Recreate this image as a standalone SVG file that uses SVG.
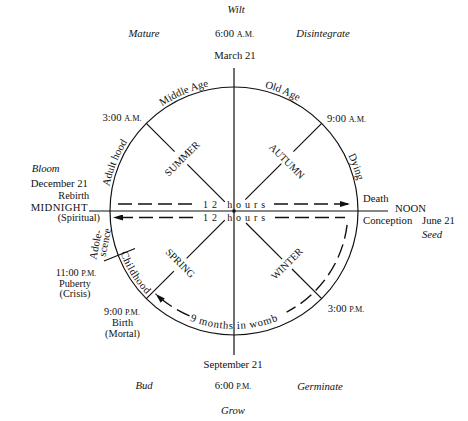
<svg xmlns="http://www.w3.org/2000/svg" xmlns:xlink="http://www.w3.org/1999/xlink" width="468" height="421" viewBox="0 0 468 421">
<style>
text{font-family:"Liberation Serif","Times New Roman",serif;font-size:10.7px;fill:#111}
.it{font-style:italic}
.m{text-anchor:middle}
.sc{font-size:8.2px}
.st{font-size:10.3px}
.ln{stroke:#111;stroke-width:1.2;fill:none}
.dash{stroke:#111;stroke-width:1.4;fill:none;stroke-dasharray:14 6}
.season{font-size:10.3px;text-anchor:middle}
.hrs{font-size:10px;letter-spacing:3.9px}
</style>
<defs>
<marker id="arr" markerUnits="userSpaceOnUse" markerWidth="11" markerHeight="6" refX="10" refY="3" orient="auto">
<path d="M0,0 L10,3 L0,6 z" fill="#111"/>
</marker>
<path id="outer" d="M107,211 A127,127 0 1 1 361,211 A127,127 0 1 1 107,211"/>
<path id="inner121" d="M113,211 A121,121 0 1 0 355,211 A121,121 0 1 0 113,211"/>
<path id="inner118" d="M116,211 A118,118 0 1 0 352,211 A118,118 0 1 0 116,211"/>
</defs>

<g id="wheel">
<circle cx="234" cy="211" r="124" class="ln" stroke-width="1.3"/>
<line x1="234" y1="68" x2="234" y2="355" class="ln"/>
<line x1="89" y1="211" x2="388" y2="211" class="ln"/>
<rect x="232.5" y="209.5" width="3" height="3" fill="#111"/>
<line x1="104" y1="261" x2="135" y2="248.5" class="ln"/>
</g>

<g id="diagonals">
<line x1="146.3" y1="123.3" x2="174.6" y2="151.6" class="ln"/>
<line x1="187.3" y1="164.3" x2="224.8" y2="201.8" class="ln"/>
<line x1="321.7" y1="123.3" x2="293.4" y2="151.6" class="ln"/>
<line x1="281.4" y1="163.6" x2="245.3" y2="199.7" class="ln"/>
<line x1="146.3" y1="298.7" x2="173.9" y2="271.1" class="ln"/>
<line x1="186.6" y1="258.4" x2="224.8" y2="220.2" class="ln"/>
<line x1="321.7" y1="298.7" x2="292" y2="269" class="ln"/>
<line x1="282.1" y1="259.1" x2="246" y2="223" class="ln"/>
</g>

<g id="connectors">
<path d="M118,204 H192" class="dash"/>
<path d="M274,204 H350" class="dash" marker-end="url(#arr)"/>
<path d="M193,217.5 H113" class="dash" marker-end="url(#arr)"/>
<path d="M275,217.5 H345" class="dash"/>
<path d="M347.1,224.9 A114,114 0 0 1 286.6,312.1" class="dash"/>
<path d="M189.5,315.9 A114,114 0 0 1 155.5,293.7" class="dash" stroke-dasharray="10 6" marker-end="url(#arr)"/>
</g>

<g id="hours">
<text class="hrs" x="203" y="207.7">12 hours</text>
<text class="hrs" x="203" y="221">12 hours</text>
</g>

<g id="seasons">
<text class="season" transform="translate(182,158.5) rotate(-45)" y="3.7">SUMMER</text>
<text class="season" transform="translate(287,161) rotate(45)" y="3.7">AUTUMN</text>
<text class="season" transform="translate(180.5,263) rotate(45)" y="3.7">SPRING</text>
<text class="season" transform="translate(286.7,263.5) rotate(-45)" y="3.7">WINTER</text>
</g>

<g id="ages">
<text><textPath xlink:href="#outer" href="#outer" startOffset="148.5" text-anchor="middle">Middle Age</textPath></text>
<text><textPath xlink:href="#outer" href="#outer" startOffset="248.3" text-anchor="middle">Old Age</textPath></text>
<text><textPath xlink:href="#outer" href="#outer" startOffset="354.6" text-anchor="middle">Dying</textPath></text>
<text><textPath xlink:href="#outer" href="#outer" startOffset="48.8" text-anchor="middle">Adult hood</textPath></text>
<text letter-spacing="0.5"><textPath xlink:href="#inner121" href="#inner121" startOffset="67.6" text-anchor="middle">Childhood</textPath></text>
<text letter-spacing="0.7"><textPath xlink:href="#inner118" href="#inner118" startOffset="185.4" text-anchor="middle">9 months in womb</textPath></text>
<text class="m" font-size="10.3" transform="translate(95.7,244.7) rotate(-79)" y="3.5">Adole-</text>
<text class="m" font-size="10.3" transform="translate(105.8,242.5) rotate(-79)" y="2.5">scence</text>
</g>

<g id="top-labels">
<text class="it m" x="236" y="12.7">Wilt</text>
<text class="it m" x="144" y="36.5">Mature</text>
<text class="m" x="234.5" y="36.7">6:00 <tspan class="sc">A.M.</tspan></text>
<text class="it m" x="323" y="36.5">Disintegrate</text>
<text class="m" x="235" y="59.3">March 21</text>
<text class="m" x="122" y="120.7">3:00 <tspan class="sc">A.M.</tspan></text>
<text class="m" x="346.5" y="122">9:00 <tspan class="sc">A.M.</tspan></text>
</g>

<g id="left-labels">
<text class="it" x="31.7" y="172.3">Bloom</text>
<text x="30.7" y="187.3">December 21</text>
<text class="st" x="58.3" y="199.3">Rebirth</text>
<text x="30.7" y="211" font-size="10.5" letter-spacing="0.4">MIDNIGHT</text>
<text class="st" x="57.7" y="221">(Spiritual)</text>
<text class="m st" x="76" y="275.5">11:00 <tspan class="sc">P.M.</tspan></text>
<text class="m st" x="75" y="286.5">Puberty</text>
<text class="m st" x="75" y="297.3">(Crisis)</text>
<text class="m st" x="122" y="314.8">9:00 <tspan class="sc">P.M.</tspan></text>
<text class="m st" x="122.5" y="326.3">Birth</text>
<text class="m st" x="122.5" y="337.3">(Mortal)</text>
</g>

<g id="right-labels">
<text x="363" y="201.7">Death</text>
<text x="395" y="212" font-size="10.6">NOON</text>
<text x="363" y="223.8" font-size="10.5">Conception</text>
<text x="422" y="223.8" font-size="10.5">June 21</text>
<text class="it" x="422" y="237.8">Seed</text>
<text class="m" x="346" y="311.7">3:00 <tspan class="sc">P.M.</tspan></text>
</g>

<g id="bottom-labels">
<text class="m" x="233" y="367.7">September 21</text>
<text class="it m" x="144" y="389.3">Bud</text>
<text class="m" x="233" y="389.3">6:00 <tspan class="sc">P.M.</tspan></text>
<text class="it m" x="320" y="389.5">Germinate</text>
<text class="it m" x="233" y="413.5">Grow</text>
</g>
</svg>
